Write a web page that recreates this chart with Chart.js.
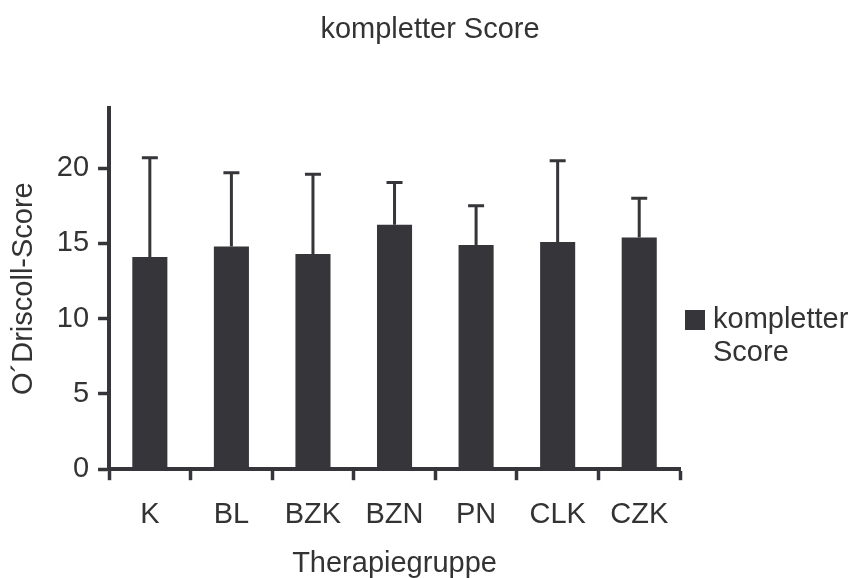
<!DOCTYPE html>
<html>
<head>
<meta charset="utf-8">
<script src="https://cdn.jsdelivr.net/npm/chart.js@4/dist/chart.umd.min.js"></script>
<style>
  html, body { margin: 0; padding: 0; background: #fff; }
  #wrap { width: 852px; height: 578px; }
</style>
</head>
<body>
<div id="wrap"><canvas id="score-chart" width="852" height="578"></canvas></div>
<script>
const groups = ['K', 'BL', 'BZK', 'BZN', 'PN', 'CLK', 'CZK'];
const meanScore = [14.1, 14.8, 14.3, 16.25, 14.9, 15.1, 15.4];
const sdScore = [6.6, 4.9, 5.3, 2.8, 2.6, 5.4, 2.6];
const yTicks = [0, 5, 10, 15, 20];

const axisColor = '#35353a';
const barColor = '#35353a';
const textColor = '#333333';
const fontFamily = 'Liberation Sans, Arial, sans-serif';
const fontSize = 29;

// error bars (upper half only)
const errorBars = {
    id: 'errorBars',
    afterDatasetsDraw(chart) {
        const ctx = chart.ctx;
        const meta = chart.getDatasetMeta(0);
        const y = chart.scales.y;
        ctx.save();
        ctx.strokeStyle = barColor;
        ctx.lineWidth = 3;
        meta.data.forEach((bar, i) => {
            const top = y.getPixelForValue(meanScore[i] + sdScore[i]);
            ctx.beginPath();
            ctx.moveTo(bar.x, bar.y);
            ctx.lineTo(bar.x, top);
            ctx.moveTo(bar.x - 8, top);
            ctx.lineTo(bar.x + 8, top);
            ctx.stroke();
        });
        ctx.restore();
    }
};

// title over the whole canvas + legend on the right, label wrapped over two lines
const titleAndLegend = {
    id: 'titleAndLegend',
    afterDraw(chart) {
        const ctx = chart.ctx;
        const label = chart.data.datasets[0].label;
        const words = label.split(' ');
        ctx.save();
        ctx.font = fontSize + 'px ' + fontFamily;
        ctx.fillStyle = textColor;
        ctx.textBaseline = 'middle';
        ctx.textAlign = 'center';
        ctx.fillText(label, 430, 30);

        const x = chart.chartArea.right + 5;
        const y = 310;
        ctx.fillStyle = barColor;
        ctx.fillRect(x, y, 20, 20);
        ctx.fillStyle = textColor;
        ctx.textAlign = 'left';
        ctx.fillText(words[0], x + 28, y + 10);
        ctx.fillText(words[1], x + 28, y + 43);
        ctx.restore();
    }
};

const scoreChart = new Chart(document.getElementById('score-chart'), {
    type: 'bar',
    data: {
        labels: groups,
        datasets: [{
            label: 'kompletter Score',
            data: meanScore,
            backgroundColor: barColor,
            barPercentage: 0.86,
            categoryPercentage: 0.5
        }]
    },
    plugins: [errorBars, titleAndLegend],
    options: {
        responsive: false,
        animation: false,
        layout: {
            padding: { left: 7, right: 172, top: 108, bottom: 0 }
        },
        plugins: {
            legend: { display: false },
            tooltip: { enabled: false },
            title: { display: false }
        },
        scales: {
            x: {
                offset: true,
                grid: {
                    offset: true,
                    drawOnChartArea: false,
                    tickLength: 11,
                    tickWidth: 3.5,
                    tickColor: axisColor
                },
                border: { color: axisColor, width: 4 },
                ticks: {
                    color: textColor,
                    padding: 17,
                    font: { family: fontFamily, size: fontSize }
                },
                title: {
                    display: true,
                    text: 'Therapiegruppe',
                    color: textColor,
                    font: { family: fontFamily, size: fontSize, lineHeight: 1.0 },
                    padding: { top: 0, bottom: 0 }
                }
            },
            y: {
                min: 0,
                max: 24,
                afterBuildTicks: scale => {
                    scale.ticks = yTicks.map(v => ({ value: v }));
                },
                grid: {
                    drawOnChartArea: false,
                    tickLength: 11,
                    tickWidth: 3.5,
                    tickColor: axisColor
                },
                border: { color: axisColor, width: 4 },
                ticks: {
                    color: textColor,
                    padding: 9,
                    font: { family: fontFamily, size: fontSize }
                },
                title: {
                    display: true,
                    text: 'O´Driscoll-Score',
                    color: textColor,
                    font: { family: fontFamily, size: fontSize },
                    padding: { top: 0, bottom: 6 }
                }
            }
        }
    }
});
</script>
</body>
</html>
